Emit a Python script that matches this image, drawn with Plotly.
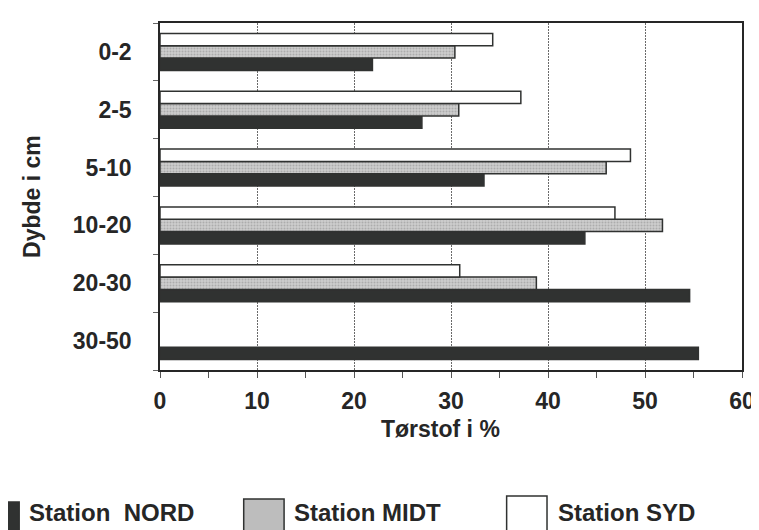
import plotly.graph_objects as go

# ── Data ──────────────────────────────────────────────────────────────────────
depths = ["0-2", "2-5", "5-10", "10-20", "20-30", "30-50"]
nord = [21.9, 27.0, 33.4, 43.8, 54.6, 55.5]
midt = [30.4, 30.8, 46.0, 51.8, 38.8, None]
syd = [34.3, 37.2, 48.5, 46.9, 30.9, None]

x_ticks = [0, 10, 20, 30, 40, 50, 60]

# ── Style ─────────────────────────────────────────────────────────────────────
FONT = "Liberation Sans, Arial, sans-serif"
INK = "#262626"
DARK = "#303231"
GREY = "#bdbdbd"
W, H = 759, 530
L, R, T, B = 152, 16, 15, 168
PW, PH = W - L - R, H - T - B


def px_x(px):
    return (px - L) / PW


def px_y(py):
    return (H - B - py) / PH


fig = go.Figure()
outline = dict(color=DARK, width=1.5)
fig.add_trace(go.Bar(y=depths, x=nord, orientation="h", name="Station NORD",
                     marker=dict(color=DARK, line=outline)))
fig.add_trace(go.Bar(y=depths, x=midt, orientation="h", name="Station MIDT",
                     marker=dict(color=GREY, line=outline,
                                 pattern=dict(shape=".", fgcolor="#8c8c8c",
                                              bgcolor="#cdcdcd", size=3,
                                              solidity=0.35))))
fig.add_trace(go.Bar(y=depths, x=syd, orientation="h", name="Station SYD",
                     marker=dict(color="white", line=outline)))

fig.update_layout(
    width=W, height=H,
    margin=dict(l=L, r=R, t=T, b=B),
    paper_bgcolor="white", plot_bgcolor="white",
    font=dict(family=FONT, color=INK, size=23),
    barmode="group", bargap=0.36, bargroupgap=0,
    showlegend=False,
    xaxis=dict(
        range=[0, 60], tickvals=x_ticks,
        tickfont=dict(size=23, family=FONT, color=INK, weight="bold"),
        showgrid=True, gridcolor="#6a6a6a", gridwidth=1, griddash="2px,1px",
        showline=True, linecolor=INK, linewidth=2, mirror=True,
        ticks="outside", ticklen=6, tickcolor="#555", tickwidth=1,
        minor=dict(dtick=5, ticks="outside", ticklen=6, tickcolor="#555",
                   showgrid=False),
        ticklabelstandoff=3, zeroline=False,
    ),
    yaxis=dict(
        categoryorder="array", categoryarray=depths[::-1],
        tickfont=dict(size=23, family=FONT, color=INK, weight="bold"),
        showgrid=False,
        showline=True, linecolor=INK, linewidth=1.5, mirror=True,
        ticks="outside", ticklen=5, tickcolor="#666", tickson="boundaries",
        ticklabelstandoff=22,
    ),
)

# axis titles
fig.add_annotation(text="<b>Tørstof i %</b>", xref="paper", yref="paper",
                   x=px_x(437), y=px_y(421), showarrow=False,
                   xanchor="center", yanchor="middle",
                   font=dict(size=23, family=FONT, color=INK))
fig.add_annotation(text="<b>Dybde i cm</b>", xref="paper", yref="paper",
                   x=px_x(22), y=px_y(188), showarrow=False, textangle=-90,
                   xanchor="center", yanchor="middle",
                   font=dict(size=23, family=FONT, color=INK))

# legend drawn below the chart with large swatches
legend_items = [
    ("Station\u00a0 NORD", DARK, -30, 9, 494, 17),
    ("Station MIDT", GREY, 237, 278, 491, 286),
    ("Station SYD", "white", 504, 545, 488, 554),
]
for label, fill, x0, x1, y0, tx in legend_items:
    fig.add_shape(type="rect", xref="paper", yref="paper",
                  x0=px_x(x0), x1=px_x(x1), y0=px_y(y0), y1=px_y(545),
                  fillcolor=fill, line=dict(color=DARK, width=1.5))
    fig.add_annotation(text=f"<b>{label}</b>", xref="paper", yref="paper",
                       x=px_x(tx), y=px_y(505), showarrow=False,
                       xanchor="left", yanchor="middle",
                       font=dict(size=24, family=FONT, color=INK))

fig.write_html("out.html")
